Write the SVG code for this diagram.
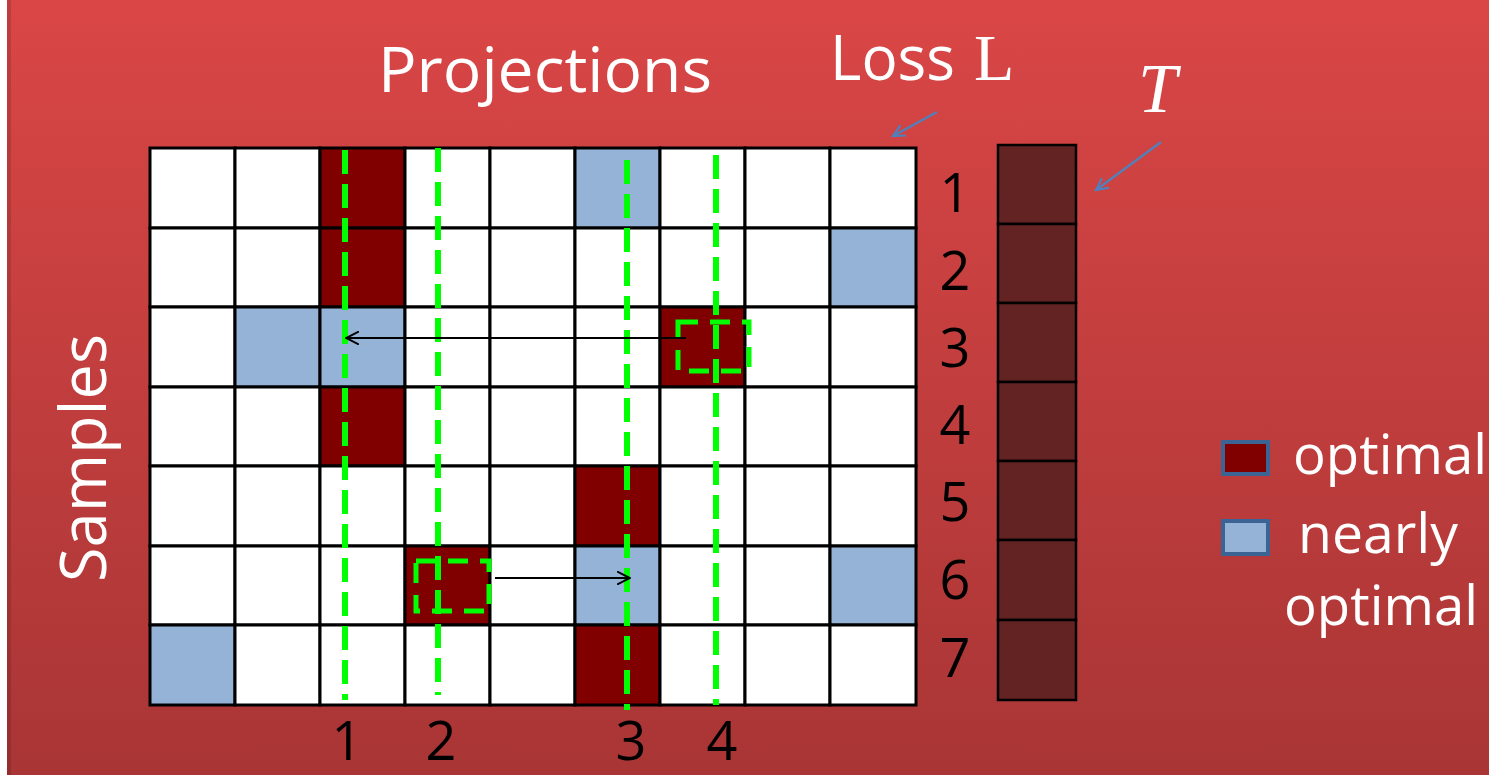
<svg xmlns="http://www.w3.org/2000/svg" width="1489" height="775" viewBox="0 0 1489 775">
<defs>
<linearGradient id="bg" x1="0" y1="0" x2="0" y2="1">
<stop offset="0" stop-color="#DA4646"/>
<stop offset="1" stop-color="#A93535"/>
</linearGradient>
<marker id="open" markerWidth="14" markerHeight="14" refX="13" refY="7" orient="auto" markerUnits="userSpaceOnUse" viewBox="0 0 14 14">
<path d="M0,0.5 L13,7 L0,13.5" fill="none" stroke="#000" stroke-width="2"/>
</marker>
<marker id="blue" markerWidth="14" markerHeight="14" refX="12" refY="7" orient="auto" markerUnits="userSpaceOnUse" viewBox="0 0 14 14">
<path d="M0,1 L12,7 L0,13" fill="none" stroke="#4F81BD" stroke-width="2.2"/>
</marker>
</defs>
<style>
.w{fill:#fff;stroke:#000;stroke-width:3}
.opt{fill:#800000;stroke:#000;stroke-width:3}
.near{fill:#95B3D7;stroke:#000;stroke-width:3}
.t{fill:#632323;stroke:#000;stroke-width:2.5}
.g{stroke:#00FF00;stroke-width:6;stroke-dasharray:24 10;fill:none}
.gb{stroke:#00FF00;stroke-width:5;stroke-dasharray:20 12;fill:none}
.lbl{font-family:"Open Sans",Lato,sans-serif;fill:#000;font-size:54px}
.wt{font-family:"Open Sans",Lato,sans-serif;fill:#fff}
.leg{stroke:#3B6394;stroke-width:4}
</style>
<rect x="0" y="0" width="1489" height="775" fill="#fff"/>
<rect x="7" y="0" width="1482" height="775" fill="url(#bg)"/>
<rect x="7" y="0" width="4" height="775" fill="#000" opacity="0.12"/>

<g id="grid">
<g id="row1">
<rect class="w" x="150" y="148" width="85" height="80"/><rect class="w" x="235" y="148" width="85" height="80"/><rect class="opt" x="320" y="148" width="85" height="80"/><rect class="w" x="405" y="148" width="85" height="80"/><rect class="w" x="490" y="148" width="85" height="80"/><rect class="near" x="575" y="148" width="85" height="80"/><rect class="w" x="660" y="148" width="85" height="80"/><rect class="w" x="745" y="148" width="85" height="80"/><rect class="w" x="830" y="148" width="86" height="80"/>
</g>
<g id="row2">
<rect class="w" x="150" y="228" width="85" height="79"/><rect class="w" x="235" y="228" width="85" height="79"/><rect class="opt" x="320" y="228" width="85" height="79"/><rect class="w" x="405" y="228" width="85" height="79"/><rect class="w" x="490" y="228" width="85" height="79"/><rect class="w" x="575" y="228" width="85" height="79"/><rect class="w" x="660" y="228" width="85" height="79"/><rect class="w" x="745" y="228" width="85" height="79"/><rect class="near" x="830" y="228" width="86" height="79"/>
</g>
<g id="row3">
<rect class="w" x="150" y="307" width="85" height="80"/><rect class="near" x="235" y="307" width="85" height="80"/><rect class="near" x="320" y="307" width="85" height="80"/><rect class="w" x="405" y="307" width="85" height="80"/><rect class="w" x="490" y="307" width="85" height="80"/><rect class="w" x="575" y="307" width="85" height="80"/><rect class="opt" x="660" y="307" width="85" height="80"/><rect class="w" x="745" y="307" width="85" height="80"/><rect class="w" x="830" y="307" width="86" height="80"/>
</g>
<g id="row4">
<rect class="w" x="150" y="387" width="85" height="79"/><rect class="w" x="235" y="387" width="85" height="79"/><rect class="opt" x="320" y="387" width="85" height="79"/><rect class="w" x="405" y="387" width="85" height="79"/><rect class="w" x="490" y="387" width="85" height="79"/><rect class="w" x="575" y="387" width="85" height="79"/><rect class="w" x="660" y="387" width="85" height="79"/><rect class="w" x="745" y="387" width="85" height="79"/><rect class="w" x="830" y="387" width="86" height="79"/>
</g>
<g id="row5">
<rect class="w" x="150" y="466" width="85" height="80"/><rect class="w" x="235" y="466" width="85" height="80"/><rect class="w" x="320" y="466" width="85" height="80"/><rect class="w" x="405" y="466" width="85" height="80"/><rect class="w" x="490" y="466" width="85" height="80"/><rect class="opt" x="575" y="466" width="85" height="80"/><rect class="w" x="660" y="466" width="85" height="80"/><rect class="w" x="745" y="466" width="85" height="80"/><rect class="w" x="830" y="466" width="86" height="80"/>
</g>
<g id="row6">
<rect class="w" x="150" y="546" width="85" height="79"/><rect class="w" x="235" y="546" width="85" height="79"/><rect class="w" x="320" y="546" width="85" height="79"/><rect class="opt" x="405" y="546" width="85" height="79"/><rect class="w" x="490" y="546" width="85" height="79"/><rect class="near" x="575" y="546" width="85" height="79"/><rect class="w" x="660" y="546" width="85" height="79"/><rect class="w" x="745" y="546" width="85" height="79"/><rect class="near" x="830" y="546" width="86" height="79"/>
</g>
<g id="row7">
<rect class="near" x="150" y="625" width="85" height="80"/><rect class="w" x="235" y="625" width="85" height="80"/><rect class="w" x="320" y="625" width="85" height="80"/><rect class="w" x="405" y="625" width="85" height="80"/><rect class="w" x="490" y="625" width="85" height="80"/><rect class="opt" x="575" y="625" width="85" height="80"/><rect class="w" x="660" y="625" width="85" height="80"/><rect class="w" x="745" y="625" width="85" height="80"/><rect class="w" x="830" y="625" width="86" height="80"/>
</g>
</g>

<g id="column-T">
<rect class="t" x="998" y="145" width="78" height="79"/>
<rect class="t" x="998" y="224" width="78" height="79"/>
<rect class="t" x="998" y="303" width="78" height="79"/>
<rect class="t" x="998" y="382" width="78" height="79"/>
<rect class="t" x="998" y="461" width="78" height="79"/>
<rect class="t" x="998" y="540" width="78" height="80"/>
<rect class="t" x="998" y="620" width="78" height="80"/>
</g>

<g id="projections">
<line class="g" x1="345" y1="150" x2="345" y2="700"/>
<line class="g" x1="438" y1="148" x2="438" y2="695"/>
<line class="g" x1="627" y1="160" x2="627" y2="710"/>
<line class="g" x1="716" y1="155" x2="716" y2="705"/>
<rect class="gb" x="678" y="322" width="71" height="49"/>
<rect class="gb" x="416" y="561" width="73" height="50"/>
</g>

<g id="connectors">
<line x1="686" y1="338" x2="346" y2="338" stroke="#000" stroke-width="2.2" marker-end="url(#open)"/>
<line x1="495" y1="578" x2="630" y2="578" stroke="#000" stroke-width="2.2" marker-end="url(#open)"/>
<line x1="937" y1="112" x2="893" y2="136" stroke="#4F81BD" stroke-width="2.2" marker-end="url(#blue)"/>
<line x1="1161" y1="142" x2="1096" y2="190" stroke="#4F81BD" stroke-width="2.2" marker-end="url(#blue)"/>
</g>

<g id="titles">
<text class="wt" x="378" y="92" font-size="62" textLength="334" lengthAdjust="spacingAndGlyphs">Projections</text>
<text class="wt" x="830" y="80" font-size="62" textLength="125" lengthAdjust="spacingAndGlyphs">Loss</text>
<text x="974" y="80" font-size="66" fill="#fff" font-family="'Liberation Serif',serif">L</text>
<text x="1138" y="112" font-size="70" fill="#fff" font-style="italic" font-family="'Liberation Serif',serif">T</text>
<text class="wt" font-size="64" transform="translate(106,582) rotate(-90)" textLength="248" lengthAdjust="spacingAndGlyphs">Samples</text>
</g>

<g id="row-labels">
<text class="lbl" x="955" y="212" text-anchor="middle">1</text>
<text class="lbl" x="955" y="290" text-anchor="middle">2</text>
<text class="lbl" x="955" y="367" text-anchor="middle">3</text>
<text class="lbl" x="955" y="444" text-anchor="middle">4</text>
<text class="lbl" x="955" y="521" text-anchor="middle">5</text>
<text class="lbl" x="955" y="599" text-anchor="middle">6</text>
<text class="lbl" x="955" y="677" text-anchor="middle">7</text>
</g>

<g id="col-labels">
<text class="lbl" x="347" y="760" text-anchor="middle">1</text>
<text class="lbl" x="441" y="760" text-anchor="middle">2</text>
<text class="lbl" x="631" y="760" text-anchor="middle">3</text>
<text class="lbl" x="722" y="760" text-anchor="middle">4</text>
</g>

<g id="legend">
<rect class="leg" x="1223" y="442" width="45" height="32" fill="#800000"/>
<rect class="leg" x="1223" y="521" width="45" height="33" fill="#95B3D7"/>
<text class="wt" x="1293" y="474" font-size="54" textLength="194" lengthAdjust="spacingAndGlyphs">optimal</text>
<text class="wt" x="1298" y="553" font-size="54" textLength="160" lengthAdjust="spacingAndGlyphs">nearly</text>
<text class="wt" x="1284" y="625" font-size="54" textLength="194" lengthAdjust="spacingAndGlyphs">optimal</text>
</g>
</svg>
